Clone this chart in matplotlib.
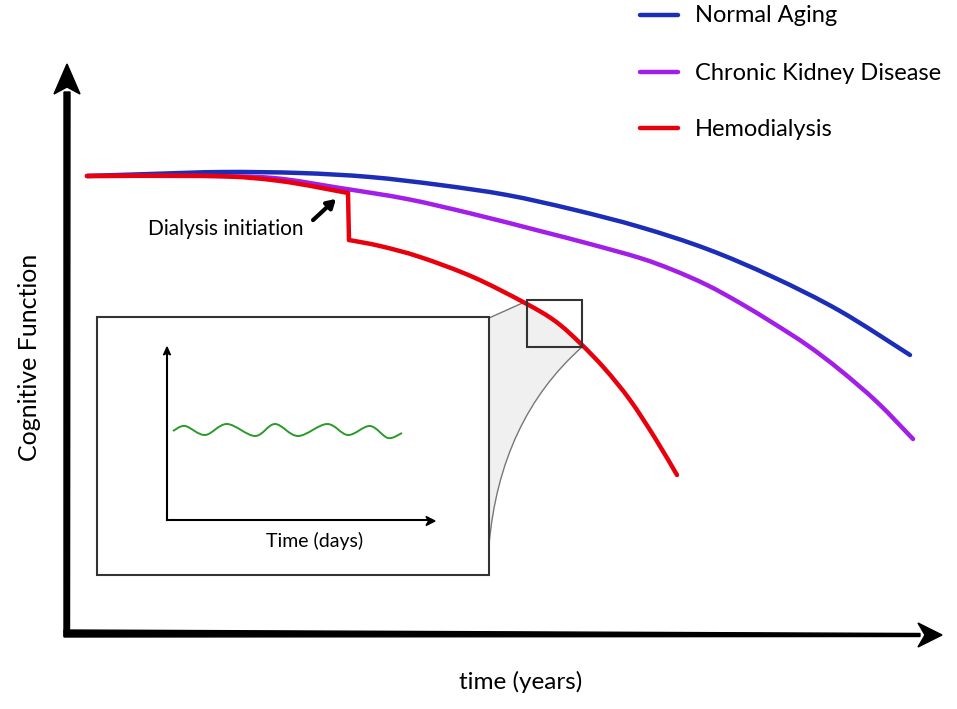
import numpy as np
import matplotlib.pyplot as plt
from matplotlib.path import Path
from matplotlib.patches import PathPatch, Polygon, Rectangle

plt.rcParams['font.family'] = ['Lato', 'DejaVu Sans']

# curves (x = time, y = drawing height, downward)
normal_x = [87, 150, 223, 300, 370, 440, 507, 573, 640, 707, 773, 840, 910]
normal_y = [176, 174, 172, 173, 177, 185, 195, 209.5, 227, 249, 277, 311, 355]

ckd_x = [87, 200, 273, 340, 407, 473, 540, 590, 640, 673, 707, 740, 773, 807, 840, 877, 913]
ckd_y = [176, 176, 178, 188, 199, 214, 231, 244, 258, 270, 285, 303, 323, 345, 370, 402, 439]

# hemodialysis: before the drop, and after it
hd_pre_x = [87, 213, 280, 348]
hd_pre_y = [176, 176, 181, 193]
hd_post_x = [349, 380, 420, 473, 525, 555, 580, 605, 630, 655, 677]
hd_post_y = [240, 246, 257, 277, 303, 321, 343, 369, 400, 438, 475]

# inset wave: peaks and troughs
wave_x = [173, 185, 205, 227, 255, 275, 298, 327, 348, 370, 388, 402]
wave_y = [431, 426, 435, 424, 436, 424, 436, 424, 435, 426, 438, 433]

labels = ['Normal Aging', 'Chronic Kidney Disease', 'Hemodialysis']
colors = ['#1c2db8', '#a31ee6', '#e8000c']


def smooth(xs, ys):
    # catmull-rom through the points, as bezier segments
    pts = np.column_stack([xs, ys]).astype(float)
    verts = [pts[0]]
    codes = [Path.MOVETO]
    for i in range(len(pts) - 1):
        p0 = pts[i - 1] if i > 0 else pts[i]
        p1, p2 = pts[i], pts[i + 1]
        p3 = pts[i + 2] if i + 2 < len(pts) else pts[i + 1]
        verts += [p1 + (p2 - p0) / 6, p2 - (p3 - p1) / 6, p2]
        codes += [Path.CURVE4] * 3
    return Path(verts, codes)


fig = plt.figure(figsize=(9.57, 7.09), dpi=100)
ax = fig.add_axes([0, 0, 1, 1])
ax.set_xlim(0, 957)
ax.set_ylim(709, 0)
ax.axis('off')

# main axes, thick and tapering
ax.add_patch(Polygon([(64, 92), (70, 92), (69.5, 636), (64, 636)], color='black'))
ax.add_patch(Polygon([(64, 630), (920, 633.5), (920, 636.5), (64, 637)], color='black'))
ax.add_patch(Polygon([(67, 64), (54, 94), (67, 87), (80, 94)], color='black'))
ax.add_patch(Polygon([(942, 635), (918, 623), (925, 635), (918, 647)], color='black'))

# inset connector
conn = Path([(489, 318), (527, 301), (582, 347), (500, 420), (489, 545), (489, 318)],
            [Path.MOVETO, Path.LINETO, Path.LINETO, Path.CURVE3, Path.CURVE3, Path.CLOSEPOLY])
ax.add_patch(PathPatch(conn, fc='#f0f0f0', ec='none', zorder=1))
ax.plot([489, 527], [318, 301], color='#777777', lw=1, zorder=2)
edge = Path([(582, 347), (500, 420), (489, 545)], [Path.MOVETO, Path.CURVE3, Path.CURVE3])
ax.add_patch(PathPatch(edge, fc='none', ec='#777777', lw=1, zorder=2))

ax.add_patch(Rectangle((97, 317), 392, 258, fc='white', ec='#333333', lw=1.5, zorder=3))

# curves
for xs, ys, c in [(normal_x, normal_y, colors[0]), (ckd_x, ckd_y, colors[1])]:
    ax.add_patch(PathPatch(smooth(xs, ys), fc='none', ec=c, lw=3.2, capstyle='round', zorder=4))
ax.add_patch(PathPatch(smooth(hd_pre_x, hd_pre_y), fc='none', ec=colors[2], lw=3.2,
                       capstyle='round', zorder=4))
ax.plot([hd_pre_x[-1], hd_post_x[0]], [hd_pre_y[-1], hd_post_y[0]], color=colors[2], lw=3.2,
        solid_capstyle='round', zorder=4)
ax.add_patch(PathPatch(smooth(hd_post_x, hd_post_y), fc='none', ec=colors[2], lw=3.2,
                       capstyle='round', zorder=4))

ax.add_patch(Rectangle((527, 300), 55, 47, fc='none', ec='#333333', lw=1.5, zorder=5))

# inset contents
ax.plot([167, 167], [520, 352], color='black', lw=1.5, zorder=6)
ax.plot([167, 428], [520, 520], color='black', lw=1.5, zorder=6)
ax.add_patch(Polygon([(167, 347), (163.5, 355), (167, 353), (170.5, 355)], color='black', zorder=6))
ax.add_patch(Polygon([(435, 521), (426, 516.5), (428.5, 521), (426, 525.5)], color='black', zorder=6))
ax.add_patch(PathPatch(smooth(wave_x, wave_y), fc='none', ec='#2a9a2a', lw=1.4, zorder=6))
ax.text(315, 541, 'Time (days)', fontsize=14, ha='center', va='center', zorder=6)

# annotation
ax.annotate('', xy=(338, 197), xytext=(311, 222),
            arrowprops=dict(arrowstyle='-|>,head_length=0.5,head_width=0.3', lw=3, color='black'))
ax.text(226, 229, 'Dialysis initiation', fontsize=15, ha='center', va='center')

# legend
for i, (lab, c) in enumerate(zip(labels, colors)):
    y = [15, 72, 128][i]
    ax.plot([640, 678], [y, y], color=c, lw=3.2, solid_capstyle='round')
    ax.text(695, y + 1, lab, fontsize=17, ha='left', va='center')

ax.text(521, 682, 'time (years)', fontsize=17.5, ha='center', va='center')
ax.text(30, 357, 'Cognitive Function', fontsize=18, ha='center', va='center', rotation=90)

fig.savefig('out.png', dpi=100)
